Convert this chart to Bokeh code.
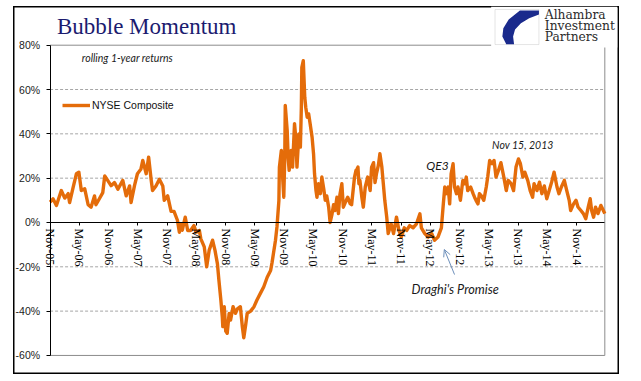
import numpy as np
import pandas as pd
from bokeh.plotting import figure
from bokeh.models import (Range1d, FixedTicker, PrintfTickFormatter, Label,
                          ColumnDataSource, Arrow, OpenHead, BoxAnnotation, PolyAnnotation,
                          Legend, LegendItem, DatetimeAxis, DatetimeTickFormatter)
from bokeh.embed import file_html
from bokeh.resources import INLINE

# ---- data ----
months_since_nov05 = [
    0.0, 0.6, 1.3, 2.3, 3.0, 3.7, 4.0, 4.7, 5.4, 5.9,
    6.4, 7.1, 7.8, 8.4, 9.1, 9.4, 10.1, 10.8, 11.2, 11.8,
    12.5, 13.2, 13.9, 14.9, 15.6, 16.3, 16.6, 17.3, 17.9, 18.6,
    19.0, 19.7, 20.2, 20.7, 21.0, 21.7, 22.4, 23.1, 23.4, 24.1,
    24.8, 25.4, 26.1, 26.5, 26.8, 27.1, 27.7, 28.2, 28.8, 29.5,
    29.9, 30.6, 30.9, 31.6, 32.1, 32.6, 33.3, 33.8, 34.3, 34.6,
    35.0, 35.3, 35.4, 35.7, 36.0, 36.3, 36.7, 37.0, 37.5, 38.0,
    38.4, 39.0, 39.4, 39.7, 40.1, 40.4, 41.1, 41.8, 42.4, 43.1,
    43.8, 44.5, 45.2, 45.5, 46.2, 46.5, 46.9, 47.0, 47.4, 47.7,
    47.9, 48.1, 48.2, 48.6, 48.8, 49.0, 49.4, 49.7, 50.1, 50.4,
    50.6, 51.0, 51.3, 51.5, 51.6, 51.9, 52.2, 52.4, 52.7, 53.0,
    53.3, 53.7, 54.0, 54.2, 54.5, 54.7, 55.0, 55.4, 55.7, 56.1,
    56.4, 56.7, 57.1, 57.4, 57.8, 58.1, 58.4, 58.8, 59.1, 59.4,
    59.8, 60.1, 60.5, 61.0, 61.5, 61.8, 62.4, 62.7, 62.9, 63.1,
    63.3, 63.5, 63.9, 64.2, 64.6, 65.1, 65.6, 65.9, 66.3, 66.6,
    66.9, 67.3, 67.6, 68.0, 68.3, 68.6, 69.0, 69.3, 69.9, 70.4,
    71.0, 71.5, 72.0, 72.6, 73.1, 73.7, 74.4, 75.1, 75.8, 76.1,
    76.8, 77.5, 78.2, 78.8, 79.5, 80.2, 80.6, 80.9, 81.2, 81.6,
    81.9, 82.2, 82.6, 82.9, 83.3, 83.6, 84.1, 84.6, 85.0, 85.3,
    85.6, 86.2, 86.7, 87.0, 87.3, 87.7, 88.0, 88.4, 88.9, 89.4,
    89.7, 90.1, 90.6, 91.0, 91.4, 91.9, 92.4, 93.0, 93.5, 93.9,
    94.5, 95.0, 95.5, 96.0, 96.4, 96.9, 97.3, 97.9, 98.4, 98.9,
    99.2, 99.8, 100.3, 100.8, 101.3, 101.8, 102.3, 102.8, 103.3, 103.9,
    104.3, 104.8, 105.4, 105.9, 106.4, 106.7, 107.3, 107.8, 108.2, 108.8,
    109.3, 109.8, 110.3, 110.7, 111.0, 111.4, 111.8, 112.3, 112.9, 113.4,
    113.7,
]
returns_pct = [
    9.2, 10.7, 7.7, 14.4, 11.0, 13.0, 9.0, 15.6, 22.0, 22.7,
    14.4, 15.2, 8.0, 6.9, 12.0, 8.0, 10.7, 13.5, 21.0, 19.0,
    16.6, 18.0, 15.0, 19.0, 12.0, 16.5, 9.0, 16.6, 22.0, 24.0,
    28.0, 22.0, 29.5, 19.5, 14.4, 16.5, 19.5, 16.5, 10.0, 12.0,
    5.0, 5.0, 1.0, -4.4, -0.6, -3.5, 2.4, -3.6, -3.6, -1.4,
    -4.4, -3.6, -7.4, -11.0, -20.0, -12.6, -8.0, -12.6, -18.7, -26.0,
    -35.0, -42.7, -47.0, -38.0, -49.0, -50.0, -41.0, -44.0, -38.0, -41.0,
    -39.0, -38.0, -47.0, -52.0, -46.0, -41.0, -40.0, -38.0, -35.0, -32.0,
    -29.0, -24.7, -21.7, -18.0, -8.0, -2.0, 10.0, 25.0, 32.5, 19.0,
    11.4, 29.0, 52.8, 41.5, 29.0, 23.5, 32.5, 25.0, 44.6, 37.0,
    25.0, 40.0, 34.0, 52.0, 70.0, 73.0, 56.5, 52.0, 47.5, 49.0,
    44.6, 38.5, 31.0, 22.0, 14.4, 11.4, 17.5, 13.0, 20.5, 15.0,
    10.0, 12.0, 6.9, 0.0, 3.9, 8.0, 5.4, 11.4, 4.0, 12.5,
    17.5, 6.9, 9.0, 11.4, 8.5, 8.0, 20.5, 23.5, 24.0, 25.0,
    17.5, 19.0, 11.4, 6.9, 16.0, 20.5, 14.4, 25.0, 27.0, 18.0,
    22.0, 26.0, 31.0, 25.0, 17.5, 10.0, 2.4, -5.0, -0.6, -5.0,
    2.4, -3.6, -6.6, -2.4, -3.6, -1.4, -2.4, -0.6, 3.9, -2.4,
    -5.0, -6.6, -5.0, -8.0, -6.6, -2.4, 8.4, 16.0, 13.0, 16.0,
    8.4, 22.0, 26.5, 16.0, 13.0, 16.0, 10.0, 19.0, 17.5, 20.5,
    14.4, 16.0, 13.0, 11.4, 10.0, 8.4, 13.0, 12.0, 10.0, 16.0,
    20.5, 28.0, 26.5, 28.0, 20.5, 23.5, 27.0, 20.5, 14.4, 19.0,
    17.5, 14.4, 25.0, 28.7, 26.5, 20.5, 22.7, 19.0, 14.4, 11.4,
    17.5, 14.4, 18.2, 13.0, 16.5, 10.7, 14.4, 18.2, 22.7, 16.0,
    13.0, 16.0, 19.0, 14.4, 10.0, 5.4, 8.4, 10.0, 7.0, 5.4,
    4.0, 1.7, 6.9, 10.7, 5.4, 2.4, 6.9, 4.0, 7.7, 5.4,
    4.0,
]
tick_labels = ["Nov-05", "May-06", "Nov-06", "May-07", "Nov-07", "May-08", "Nov-08",
               "May-09", "Nov-09", "May-10", "Nov-10", "May-11", "Nov-11", "May-12",
               "Nov-12", "May-13", "Nov-13", "May-14", "Nov-14"]
y_ticks = [-60, -40, -20, 0, 20, 40, 60, 80]
grid_ticks = [-40, -20, 20, 40, 60]
series_name = "NYSE Composite"
y_low, y_high = -60, 80

start = pd.Timestamp("2005-11-01")
DAYS_PER_MONTH = 30.4375
EPOCH = pd.Timestamp("1970-01-01")


def at(month):
    return (start + pd.Timedelta(days=month * DAYS_PER_MONTH)).to_pydatetime()


def ms(month):
    return (pd.Timestamp(at(month)) - EPOCH) / pd.Timedelta(milliseconds=1)


dates = [at(m) for m in months_since_nov05]
tick_stamps = pd.date_range(start, periods=len(tick_labels), freq="6MS")
tick_ms = [int((t - EPOCH) / pd.Timedelta(milliseconds=1)) for t in tick_stamps]
x_first, x_last = ms(months_since_nov05[0]), ms(months_since_nov05[-1])

p = figure(width=606, height=368, x_axis_type="datetime", x_axis_location=None,
           output_backend="svg", toolbar_location=None,
           x_range=Range1d(at(-7.5), at(116.3)), y_range=Range1d(-68.6, 97.46),
           min_border_left=0, min_border_right=2, min_border_top=0, min_border_bottom=0,
           background_fill_color=None, border_fill_color=None, outline_line_color=None)
p.margin = (6, 0, 0, 13)
p.styles = {"box-shadow": "inset 0 0 0 1.5px #000000"}
p.xgrid.visible = False
p.ygrid.visible = False

# y axis (drawn at the first date)
yax = p.yaxis[0]
yax.fixed_location = x_first
yax.bounds = (y_low, y_high)
yax.ticker = FixedTicker(ticks=y_ticks)
yax.formatter = PrintfTickFormatter(format="%d%%")
yax.major_tick_out = 4
yax.major_tick_in = 0
yax.minor_tick_out = 0
yax.minor_tick_in = 0
yax.axis_line_color = "black"
yax.major_tick_line_color = "black"
yax.major_label_text_font = "Liberation Sans"
yax.major_label_text_font_size = "10.5px"
yax.major_label_text_color = "#222222"
yax.major_label_standoff = 6

# plot-area grid and box (dashed grid, solid grey top/bottom/right edges)
n = len(grid_ticks)
p.segment(x0=[x_first] * n, x1=[x_last] * n, y0=grid_ticks, y1=grid_ticks,
          line_color="#a6a6a6", line_width=1, line_dash="3 2")
p.segment(x0=[x_first, x_first, x_last], x1=[x_last, x_last, x_last],
          y0=[y_low, y_high, y_low], y1=[y_low, y_high, y_high],
          line_color="#8c8c8c", line_width=1)

# x axis drawn on the zero line
xax = DatetimeAxis(fixed_location=0, bounds=(x_first, x_last),
                   ticker=FixedTicker(ticks=tick_ms),
                   formatter=DatetimeTickFormatter(days="%b-%y", months="%b-%y",
                                                   years="%b-%y"),
                   major_label_overrides=dict(zip(tick_ms, tick_labels)),
                   major_label_orientation="vertical",
                   major_tick_out=3, major_tick_in=0, minor_tick_out=0, minor_tick_in=0,
                   axis_line_color="black", axis_line_width=1.2,
                   major_tick_line_color="black",
                   major_label_text_font="Liberation Serif",
                   major_label_text_font_size="12px", major_label_text_color="black",
                   major_label_standoff=3)
p.add_layout(xax, "below")

# series
src = ColumnDataSource(dict(date=dates, ret=returns_pct))
r = p.line("date", "ret", source=src, line_color="#E46C0A", line_width=3.4, line_join="round")

legend = Legend(items=[LegendItem(label=series_name, renderers=[r])], location=(49, 263),
                padding=0, margin=0, spacing=0, label_standoff=2, glyph_width=28,
                glyph_height=12, label_height=12, border_line_color=None,
                background_fill_alpha=0, label_text_font="Liberation Sans",
                label_text_font_size="10.5px", label_text_color="#111111")
p.add_layout(legend)

# title
p.add_layout(Label(x=at(1.4), y=88.5, text="Bubble Momentum", text_font="Liberation Serif",
                   text_font_size="23px", text_color="#1b1b6f", text_baseline="alphabetic"))


# text annotations
def note(txt, month, y, size):
    p.add_layout(Label(x=at(month), y=y, text=txt, text_font="Lato", text_font_style="italic",
                       text_font_size=size, text_color="#1a1a1a", text_baseline="middle"))


note("rolling 1-year returns", 6.5, 74.4, "10.5px")
note("QE3", 77.1, 25.7, "12px")
note("Nov 15, 2013", 90.6, 34.8, "10.5px")
note("Draghi's Promise", 74.1, -29.8, "12.7px")

p.add_layout(Arrow(end=OpenHead(size=7, line_color="#6d8fba", line_width=1),
                   x_start=at(82.9), y_start=-23.5, x_end=at(80.8), y_end=-12.2,
                   line_color="#6d8fba", line_width=1))

# logo block (upper right)
p.add_layout(BoxAnnotation(left=ms(90.4), bottom=79.0, fill_color="white", fill_alpha=1,
                           line_alpha=0))
p.add_layout(BoxAnnotation(left=ms(91.2), right=ms(100.2), top=96.1, bottom=80.3,
                           fill_color="white", fill_alpha=1, line_color="#a8a8a8",
                           line_width=1))
swoosh_m = [96.3, 100.2, 100.2, 98.2, 96.5, 95.3, 94.9, 95.1, 93.5, 92.7, 92.9, 94.0]
swoosh_v = [95.7, 95.7, 93.9, 92.2, 89.9, 87.1, 83.9, 80.4, 80.4, 83.9, 87.6, 91.6]
p.add_layout(PolyAnnotation(xs=[ms(m) for m in swoosh_m], ys=swoosh_v,
                            fill_color="#1a2a8c", fill_alpha=1, line_alpha=0))
for word, yv in zip(["Alhambra", "Investment", "Partners"], [93.6, 88.7, 83.5]):
    p.add_layout(Label(x=at(101.4), y=yv, text=word, text_font="DejaVu Serif",
                       text_font_size="12.3px", text_color="#2b2b2b", text_baseline="middle"))

open("out.html", "w").write(file_html(p, INLINE))
